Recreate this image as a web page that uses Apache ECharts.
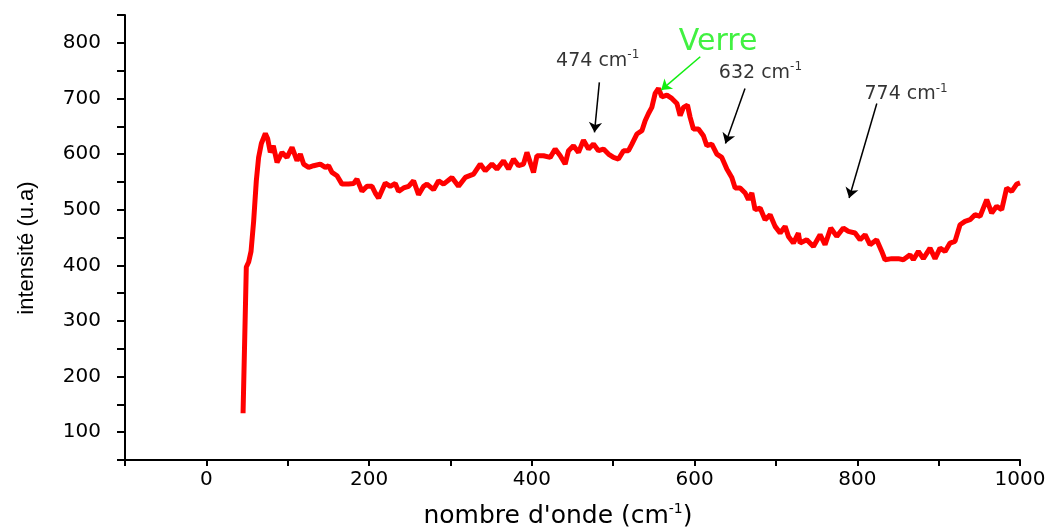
<!DOCTYPE html>
<html>
<head>
<meta charset="utf-8">
<script src="https://cdn.jsdelivr.net/npm/echarts@6/dist/echarts.min.js"></script>
<style>html,body{margin:0;padding:0;background:#fff}#c{width:1051px;height:528px}</style>
</head>
<body>
<div id="c"></div>
<script>
// wavenumber (cm-1)
const wavenumbers = [45.1,49.1,52.0,54.9,58.1,61.4,64.2,67.6,72.5,75.3,78.6,82.3,86.9,93.0,99.1,105.3,111.4,115.5,119.5,125.7,131.8,140.0,146.2,150.2,154.4,160.6,166.7,174.8,181.0,185.1,191.3,197.4,203.6,207.6,211.7,219.9,226.0,232.2,236.2,242.4,248.5,254.7,260.8,267.0,271.1,279.2,285.4,291.5,301.8,309.9,318.2,328.4,336.6,342.8,351.0,357.1,365.2,371.4,377.5,383.7,389.8,394.0,402.1,406.3,414.4,422.6,428.7,434.9,441.0,445.1,451.2,457.4,463.5,469.7,475.8,481.9,488.1,494.2,500.4,506.5,508.6,512.7,518.8,523.0,529.1,535.3,539.3,543.4,547.5,551.6,555.7,559.8,566.0,572.1,578.3,582.3,586.4,591.3,594.6,598.6,604.8,610.9,615.1,621.2,627.4,633.5,639.7,645.8,649.9,656.0,662.2,666.2,670.4,674.4,680.6,686.7,692.9,699.0,705.2,711.3,715.4,721.5,727.6,729.7,737.9,746.1,754.3,760.4,767.4,774.8,782.9,789.1,797.3,803.4,809.6,815.7,823.8,830.1,834.1,842.4,850.5,856.6,864.9,868.9,875.1,881.2,889.4,895.6,901.7,907.9,914.0,920.1,926.3,932.4,938.6,944.7,950.9,959.1,965.2,971.3,977.5,983.6,989.8,995.9,1000];
// intensity (u.a)
const intensities = [134,397,406,425,479,552,594,619,637,628,603,615,585,603,594,612,588,600,582,576,579,582,576,579,567,561,546,546,547,555,533,542,542,530,521,548,542,547,533,539,542,552,527,542,546,536,552,546,558,542,558,564,582,570,582,573,588,573,591,579,582,603,567,597,597,594,609,597,582,606,615,603,625,609,618,606,609,600,594,591,588,606,606,618,636,642,660,673,684,709,718,703,706,700,691,669,684,688,666,645,645,633,615,618,600,594,573,558,539,539,530,518,530,500,503,482,491,470,458,470,452,440,458,440,446,434,455,437,467,452,467,461,458,446,455,437,446,425,410,412,412,410,419,410,425,412,431,412,431,425,440,443,473,479,482,491,488,518,494,506,500,539,533,546,548];

// annotation labels
const annotationTexts = ['474', 'Verre', '632', '774'];
const annotationAnchors = [[481, 768], [629, 801], [681, 746], [860, 708]];
// arrows: [start, end] in data coordinates
const blackArrows = [
  [[483, 729], [477, 639]],
  [[662, 718], [638, 619]],
  [[824, 691], [790, 521]]
];
const greenArrow = [[607, 775], [559, 715]];

const xTickStep = 100, yTickStep = 50;

const chart = echarts.init(document.getElementById('c'));

const lineData = wavenumbers.map((x, i) => [x, intensities[i]]);

const labelItems = annotationTexts.map((t, i) => {
  const isGreen = t === 'Verre';
  return {
    value: annotationAnchors[i],
    label: {
      show: true,
      position: 'inside',
      color: '#000',
      formatter: isGreen ? '{g|Verre}' : '{t|' + t + ' cm}{s|-1}',
      rich: {
        t: { fontFamily: 'DejaVu Sans', fontSize: 19, color: '#000' },
        s: { fontFamily: 'DejaVu Sans', fontSize: 12, color: '#000', verticalAlign: 'top', padding: [0, 0, 11, 0] },
        g: { fontFamily: 'DejaVu Sans', fontSize: 30, color: '#11ee11' }
      }
    }
  };
});

chart.setOption({
  animation: false,
  backgroundColor: '#fff',
  grid: { left: 125, right: 31, top: 15, bottom: 68, containLabel: false },
  xAxis: {
    type: 'value', min: -100, max: 1000, interval: xTickStep,
    axisLine: { show: true, onZero: false, lineStyle: { color: '#000', width: 2 } },
    axisTick: { show: true, length: 6, lineStyle: { color: '#000', width: 2 } },
    splitLine: { show: false },
    axisLabel: {
      margin: 10, color: '#000', fontFamily: 'DejaVu Sans', fontSize: 20,
      formatter: v => (v >= 0 && v % 200 === 0) ? String(v) : ''
    }
  },
  yAxis: {
    type: 'value', min: 50, max: 850, interval: yTickStep,
    axisLine: { show: true, onZero: false, lineStyle: { color: '#000', width: 2 } },
    axisTick: { show: true, length: 8, lineStyle: { color: '#000', width: 2 } },
    splitLine: { show: false },
    axisLabel: {
      margin: 24, color: '#000', fontFamily: 'DejaVu Sans', fontSize: 20,
      formatter: v => (v % 100 === 0) ? String(v) : ''
    }
  },
  graphic: [
    {
      type: 'text', x: 27, y: 248, rotation: Math.PI / 2,
      style: { text: 'intensité (u.a)', fontFamily: 'Liberation Sans', fontSize: 22, fill: '#000', align: 'center', verticalAlign: 'middle' }
    },
    {
      type: 'text', x: 558, y: 516,
      style: {
        text: '{a|nombre d\'onde (cm}{s|-1}{a|)}', align: 'center', verticalAlign: 'middle',
        rich: {
          a: { fontFamily: 'DejaVu Sans', fontSize: 25, fill: '#000' },
          s: { fontFamily: 'DejaVu Sans', fontSize: 14, fill: '#000', verticalAlign: 'top', padding: [0, 0, 14, 0] }
        }
      }
    }
  ],
  series: [
    {
      type: 'line', data: lineData, showSymbol: false, symbol: 'none',
      lineStyle: { color: '#ff0000', width: 5 }, z: 3,
      markLine: {
        silent: true, symbol: ['none', 'arrow'], symbolSize: 10,
        lineStyle: { color: '#000', width: 1.5, type: 'solid' },
        label: { show: false },
        data: blackArrows.map(a => [{ coord: a[0] }, { coord: a[1] }]).concat([
          [{ coord: greenArrow[0], lineStyle: { color: '#11ee11', width: 1.5, type: 'solid' }, itemStyle: { color: '#11ee11' } },
           { coord: greenArrow[1], itemStyle: { color: '#11ee11' } }]
        ]),
        itemStyle: { color: '#000' }
      }
    },
    {
      type: 'scatter', symbolSize: 0, data: labelItems, silent: true, z: 5
    }
  ]
});
</script>
</body>
</html>
